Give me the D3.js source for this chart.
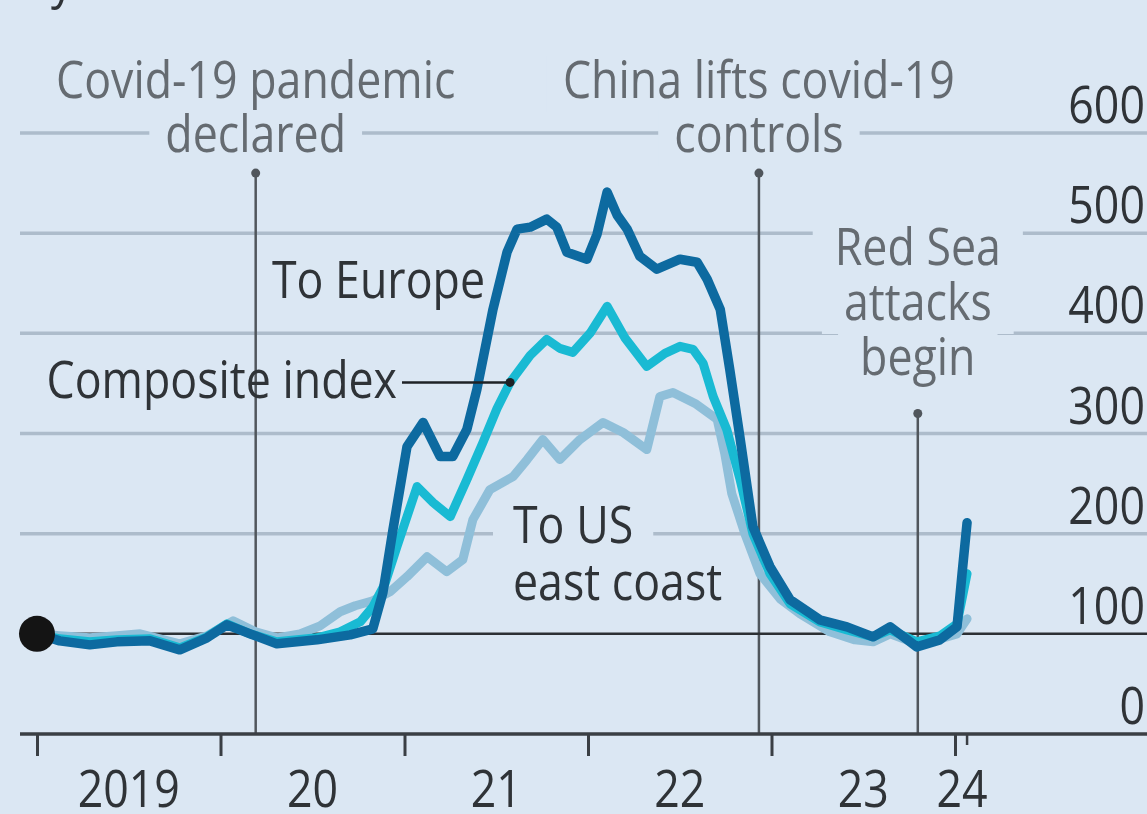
<!DOCTYPE html>
<html>
<head>
<meta charset="utf-8">
<script src="https://cdn.jsdelivr.net/npm/d3@7"></script>
<style>
  html, body { margin: 0; padding: 0; background: #dbe7f3; overflow: hidden; }
  svg { display: block; }
</style>
</head>
<body>
<svg id="chart"></svg>
<script>
// ---- Freight-rate indices, January 2019 = 100 ----
const europeDates = ["2019-01-01","2019-02-15","2019-04-16","2019-06-09","2019-08-14","2019-10-12","2019-12-05","2020-01-14","2020-02-29","2020-04-22","2020-07-11","2020-09-15","2020-10-30","2020-11-19","2020-12-09","2021-01-06","2021-02-07","2021-03-13","2021-04-07","2021-05-05","2021-05-25","2021-06-26","2021-07-24","2021-08-13","2021-09-08","2021-10-11","2021-10-31","2021-11-20","2021-12-30","2022-01-19","2022-02-08","2022-02-28","2022-03-20","2022-04-14","2022-05-18","2022-07-03","2022-08-06","2022-08-26","2022-09-21","2022-10-10","2022-10-30","2022-11-25","2022-12-29","2023-02-07","2023-04-07","2023-05-31","2023-07-22","2023-08-25","2023-10-17","2023-12-02","2024-01-05","2024-01-15","2024-01-25"];
const europeValues = [100,93,89,92,93,84,96,109,100,90,94,99,105,141,204,287,311,277,277,304,344,424,481,504,506,514,506,481,474,499,541,518,504,477,464,474,471,454,424,364,297,207,167,134,114,107,97,107,87,94,107,160,211];

const compositeDates = ["2019-01-01","2019-02-15","2019-04-16","2019-06-09","2019-08-14","2019-10-12","2019-12-05","2020-01-14","2020-02-29","2020-04-22","2020-07-11","2020-08-26","2020-10-05","2020-10-30","2020-11-23","2020-12-17","2021-01-26","2021-02-27","2021-04-02","2021-05-05","2021-06-06","2021-07-04","2021-07-30","2021-09-08","2021-10-11","2021-11-06","2021-12-02","2022-01-05","2022-02-08","2022-03-16","2022-04-28","2022-06-03","2022-07-03","2022-07-29","2022-08-18","2022-09-07","2022-10-04","2022-10-30","2022-11-25","2022-12-29","2023-02-07","2023-04-07","2023-05-31","2023-07-22","2023-08-25","2023-10-17","2023-12-02","2024-01-05","2024-01-15","2024-01-25"];
const compositeValues = [100,95,92,94,95,86,97,110,100,92,96,102,112,127,150,187,247,231,217,254,291,325,351,378,394,385,381,400,427,395,367,380,387,384,370,337,304,255,200,160,130,112,104,97,104,92,98,110,135,160];

const usEastDates = ["2019-01-01","2019-02-15","2019-04-16","2019-06-09","2019-07-25","2019-10-12","2019-12-05","2020-01-26","2020-03-11","2020-04-22","2020-06-07","2020-07-17","2020-08-26","2020-09-25","2020-10-30","2020-12-03","2021-01-06","2021-02-15","2021-03-26","2021-04-27","2021-05-17","2021-06-20","2021-08-05","2021-09-02","2021-10-03","2021-11-06","2021-12-16","2022-01-31","2022-03-12","2022-04-28","2022-05-24","2022-06-19","2022-08-02","2022-09-15","2022-09-30","2022-10-14","2022-11-09","2022-12-09","2023-01-18","2023-02-27","2023-04-27","2023-06-16","2023-07-22","2023-08-25","2023-10-17","2023-12-02","2024-01-05","2024-01-25"];
const usEastValues = [100,98,96,98,100,90,98,113,102,96,100,108,122,128,133,142,157,177,162,174,214,244,257,274,294,274,294,311,301,284,337,341,330,314,280,240,200,160,135,120,102,94,92,100,90,95,100,115];

const yearTicks = ["2019-01-01","2020-01-01","2021-01-01","2022-01-01","2023-01-01","2024-01-01"];
const yearLabels = ["2019","20","21","22","23","24"];
const valueTicks = [0,100,200,300,400,500,600];

const eventDates = ["2020-03-11","2022-12-07","2023-10-19"];
const eventLabels = [["Covid-19 pandemic","declared"],["China lifts covid-19","controls"],["Red Sea","attacks","begin"]];

const pointerDate = "2021-07-30";

// ---- Layout ----
const W = 1147, H = 814;
const BG = "#dbe7f3";
const parse = d3.utcParse("%Y-%m-%d");

const svg = d3.select("#chart").attr("width", W).attr("height", H);
svg.append("rect").attr("width", W).attr("height", H).attr("fill", BG);

const x = d3.scaleUtc()
  .domain([parse("2019-01-01"), parse("2024-01-01")])
  .range([37, 955]);
const y = d3.scaleLinear().domain([0, 600]).range([734, 133]);

const gGrid = svg.append("g");
const gGaps = svg.append("g");
const gRef = svg.append("g");
const gSeries = svg.append("g");
const gText = svg.append("g");

const FONT = "'Open Sans', 'Noto Sans', sans-serif";
function label(g, str, px, py, anchor, fill, size) {
  return g.append("text")
    .attr("transform", `translate(${px},${py}) scale(0.86,1)`)
    .attr("text-anchor", anchor)
    .attr("font-family", FONT)
    .attr("font-size", size || 52)
    .attr("fill", fill)
    .text(str);
}
// background patch behind a text line so grid/reference lines break around it
function gap(node, padX, top, bottom, baseline) {
  const b = node.node().getBBox();
  const m = node.node().getCTM();
  const x0 = m.a * b.x + m.e, x1 = m.a * (b.x + b.width) + m.e;
  gGaps.append("rect")
    .attr("x", x0 - padX).attr("width", x1 - x0 + 2 * padX)
    .attr("y", baseline - top).attr("height", top + bottom)
    .attr("fill", BG);
}

// horizontal gridlines
gGrid.selectAll("line.grid")
  .data(valueTicks.filter(v => v > 100))
  .join("line")
  .attr("x1", 20).attr("x2", W)
  .attr("y1", d => y(d)).attr("y2", d => y(d))
  .attr("stroke", "#adbccb").attr("stroke-width", 3.5);

// event reference lines
const eventTops = [560, 560, 320];
eventDates.forEach((d, i) => {
  const ex = x(parse(d));
  gRef.append("line")
    .attr("x1", ex).attr("x2", ex)
    .attr("y1", y(eventTops[i])).attr("y2", y(0))
    .attr("stroke", "#50565c").attr("stroke-width", 2.5);
  gRef.append("circle").attr("cx", ex).attr("cy", y(eventTops[i])).attr("r", 4.5).attr("fill", "#50565c");
});

// baseline (100) and zero axis
gRef.append("line").attr("x1", 20).attr("x2", W).attr("y1", y(100)).attr("y2", y(100))
  .attr("stroke", "#2c3034").attr("stroke-width", 2.5);
gRef.append("line").attr("x1", 20).attr("x2", W).attr("y1", y(0)).attr("y2", y(0))
  .attr("stroke", "#3a3f44").attr("stroke-width", 3.5);

// year ticks
const axis = d3.axisBottom(x)
  .tickValues(yearTicks.map(parse))
  .tickSize(22).tickFormat("");
const gAxis = gRef.append("g").attr("transform", `translate(0,${y(0)})`).call(axis);
gAxis.select(".domain").remove();
gAxis.selectAll(".tick line").attr("stroke", "#3a3f44").attr("stroke-width", 3);

// short tick at the latest observation
const lastDate = parse(europeDates[europeDates.length - 1]);
gRef.append("line").attr("x1", x(lastDate)).attr("x2", x(lastDate))
  .attr("y1", y(0)).attr("y2", y(0) + 11)
  .attr("stroke", "#3a3f44").attr("stroke-width", 2.5);

// year labels
yearLabels.forEach((t, i) => {
  const a = x(parse(yearTicks[i]));
  const lx = i < yearTicks.length - 1 ? (a + x(parse(yearTicks[i + 1]))) / 2 : a + 7;
  label(gText, t, lx, 807, "middle", "#2f3337");
});

// value labels on the right
valueTicks.forEach(v => {
  label(gText, String(v), W - 2, y(v) - 10, "end", "#2f3337");
});

// series lines
const line = d3.line().x(d => x(d.date)).y(d => y(d.value));
function toSeries(dates, values) {
  return dates.map((d, i) => ({ date: parse(d), value: values[i] }));
}
const usEast = toSeries(usEastDates, usEastValues);
const composite = toSeries(compositeDates, compositeValues);
const europe = toSeries(europeDates, europeValues);

[[usEast, "#8fbfd9", 9], [composite, "#19bad3", 9], [europe, "#0d6aa0", 9.5]].forEach(([data, col, w]) => {
  gSeries.append("path").datum(data)
    .attr("d", line)
    .attr("fill", "none")
    .attr("stroke", col)
    .attr("stroke-width", w)
    .attr("stroke-linejoin", "round")
    .attr("stroke-linecap", "round");
});

// starting point marker
gSeries.append("circle")
  .attr("cx", x(europe[0].date)).attr("cy", y(europe[0].value))
  .attr("r", 18).attr("fill", "#141414");

// event annotation text
const eventBaselines = [[98, 152], [98, 152], [265, 320, 375]];
eventLabels.forEach((lines, i) => {
  const ex = x(parse(eventDates[i]));
  lines.forEach((t, j) => {
    const node = label(gText, t, ex, eventBaselines[i][j], "middle", "#656b71");
    gap(node, i === 2 ? 22 : 16, 42, 14, eventBaselines[i][j]);
  });
});

// series labels
label(gText, "To Europe", 485, 298, "end", "#2f3337");
const compNode = label(gText, "Composite index", 397, 398, "end", "#2f3337");
gap(compNode, 4, 32, 32, 398);
const usA = label(gText, "To US", 513, 543, "start", "#2f3337");
gap(usA, 20, 40, 10, 543);
label(gText, "east coast", 513, 600, "start", "#2f3337");

// pointer from the composite label to its line
const pIdx = compositeDates.indexOf(pointerDate);
const px = x(composite[pIdx].date), py = y(composite[pIdx].value);
gText.append("line").attr("x1", 402).attr("x2", px).attr("y1", py).attr("y2", py)
  .attr("stroke", "#1e2226").attr("stroke-width", 2.5);
gText.append("circle").attr("cx", px).attr("cy", py).attr("r", 4.5).attr("fill", "#1e2226");

// clipped subtitle at the very top
label(gText, "By route", 22, -2, "start", "#2f3337");
</script>
</body>
</html>
